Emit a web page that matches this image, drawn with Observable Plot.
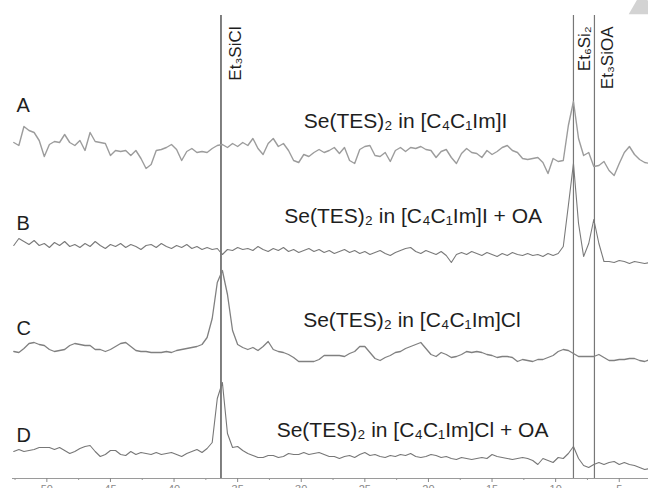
<!DOCTYPE html>
<html><head><meta charset="utf-8">
<script src="https://cdn.jsdelivr.net/npm/d3@7"></script>
<script src="https://cdn.jsdelivr.net/npm/@observablehq/plot@0.6"></script>
<style>
html,body{margin:0;padding:0;background:#fff;overflow:hidden;width:648px;height:488px;}
</style></head><body><div id="chart"></div>
<script>
// chemical shift grid (ppm), high to low
const shifts = d3.range(126).map(i => +(52.6 - 0.4 * i).toFixed(1));

const traceNames = ["A", "B", "C", "D"];
const traceOffset = [328, 230, 128, 23];
const traceColor = ["#9c9c9c", "#7a7a7a", "#808080", "#777777"];
const traceWidth = [1.4, 1.1, 1.3, 1.1];

const traceA = [8,5,24,20,18,10,-6,6,9,8, 16,8,5,10,0,18,9,8,7,-5, 0,-1,0,-5,0,-8,-18,-14,0,1,
  3,6,1,-10,-1,2,-2,-1,-2,2, 5,6,3,7,4,8,5,12,2,-4, 7,12,4,7,0,-10,-12,-4,-6,-2,
  1,-2,0,3,-3,3,-10,-13,1,4, 5,-5,-6,-2,-11,0,3,-1,3,2, 4,1,0,-7,-1,1,-7,-13,-3,2,
  -2,-3,-7,0,-4,-1,3,5,0,-2, -8,-9,-8,-7,-12,-23,-8,-11,-10,25, 49,12,-5,-2,-16,-15,-11,-20,-25,-13,
  -2,4,-4,-9,-12,-13];
const traceB = [3,10,7,4,8,3,5,1,6,3, 7,2,4,1,5,2,7,3,0,4, 2,5,1,4,2,-1,3,4,1,5,
  2,0,3,1,4,0,2,-1,1,-1, 0,-6,-1,-2,1,-1,0,-2,2,-1, -3,0,-2,1,-3,-1,-4,-2,0,-3,
  -1,-4,-2,-5,-3,-1,-4,-2,-5,-3, -6,-4,-2,-5,-7,-4,-2,0,1,-3, -5,-2,-4,-6,-3,-7,-14,-6,-4,-6,
  -3,-5,-7,-4,-6,-8,-5,-7,-4,-6, -7,-5,-7,-6,-8,-5,-7,-5,2,43, 85,25,-8,5,29,5,-13,-13,-14,-12,
  -13,-15,-13,-14,-15,-14];
const traceC = [-1,-2,2,7,8,6,5,1,-1,0, 1,5,7,6,5,5,1,1,-1,1, 4,7,8,4,0,-1,-1,-2,-2,-2,
  -1,-2,0,1,2,3,4,6,13,32, 68,80,56,20,6,3,1,3,0,4, 9,1,-1,-2,-4,-7,-11,-11,-11,-11,
  -9,-5,-5,-5,-5,-6,-3,-1,4,4, -2,-8,-10,-7,-5,-2,-1,2,4,6, 8,2,-4,-6,-2,-4,-7,-6,-4,-1,
  -2,-1,-2,-4,-5,-7,-6,-6,-7,-11, -9,-10,-11,-9,-9,-7,-5,-1,1,0, -3,-6,-6,-6,-6,-4,-7,-10,-10,-9,
  -9,-8,-8,-10,-11,-9];
const traceD = [4,6,4,5,6,8,8,8,6,8, 5,2,4,7,9,10,4,-1,1,5, 5,1,0,4,1,3,2,1,3,1,
  2,3,1,-1,2,4,6,3,7,13, 57,73,22,8,9,5,2,0,-2,-2, 0,0,-2,-1,2,1,1,3,1,2,
  3,1,-1,-1,-3,-1,0,-2,1,3, 0,1,-1,-2,0,-1,1,0,2,-1, -2,-1,1,0,-2,-1,-3,-4,-2,-3,
  -4,-3,-2,-3,1,-1,-2,-3,-4,-3, -2,-3,-5,-9,-3,-5,-7,-2,-3,2, 9,-3,-10,-12,-9,-7,-9,-7,-6,-9,
  -7,-9,-10,-12,-14,-13];
const traces = [traceA, traceB, traceC, traceD];

const sampleLabels = ["Se(TES)₂ in [C₄C₁Im]I", "Se(TES)₂ in [C₄C₁Im]I + OA", "Se(TES)₂ in [C₄C₁Im]Cl", "Se(TES)₂ in [C₄C₁Im]Cl + OA"];
const sampleLabelX = [21.8, 21.2, 21.3, 21.25];
const sampleLabelY = [351, 256, 152, 42];
const letterY = [367, 249, 144, 37];

const refShifts = [36.31, 8.6, 6.95];
const refLabels = ["Et₃SiCl", "Et₆Si₂", "Et₃SiOA"];
const refColor = ["#555555", "#777777", "#777777"];
const refTop = 463;
const refLabelTop = 452;
const refLabelDx = [15, 11, 13];

const majorTicks = [50, 45, 40, 35, 30, 25, 20, 15, 10, 5];
const minorTicks = [52.5, 47.5, 42.5, 37.5, 32.5, 27.5, 22.5, 17.5, 12.5, 7.5];

// light grey corner marker (top right of the figure)
const cornerMarker = [{shift: 3.2, level: 472}];

const font = "'Liberation Sans', Arial, Helvetica, sans-serif";

const marks = [];
marks.push(Plot.ruleY([0], {stroke: "#9a9a9a", strokeWidth: 1.2}));
marks.push(Plot.axisX(majorTicks, {anchor: "bottom", tickSize: 4, tickPadding: 3, fontSize: 11, color: "#888", tickFormat: d => String(d)}));
marks.push(Plot.ruleX(minorTicks, {y1: 0, y2: -2, stroke: "#999"}));
refShifts.forEach((s, k) => {
  marks.push(Plot.ruleX([s], {y1: 0, y2: refTop, stroke: refColor[k], strokeWidth: k === 0 ? 1.5 : 1.2}));
  marks.push(Plot.text([refLabels[k]], {x: () => s, y: () => refLabelTop, text: d => d, rotate: -90,
    textAnchor: "end", dx: refLabelDx[k], fontSize: 17, fill: "#1e1e1e", fontFamily: font}));
});
traces.forEach((vals, k) => {
  const rows = vals.map((v, i) => ({shift: shifts[i], y: traceOffset[k] + v}));
  marks.push(Plot.line(rows, {x: "shift", y: "y", stroke: traceColor[k], strokeWidth: traceWidth[k], strokeLinejoin: "round"}));
});
marks.push(Plot.text(traceNames, {frameAnchor: "left", y: (d, i) => letterY[i], text: d => d, dx: 4,
  textAnchor: "start", lineAnchor: "bottom", fontSize: 20, fill: "#1e1e1e", fontFamily: font}));
marks.push(Plot.text(sampleLabels, {x: (d, i) => sampleLabelX[i], y: (d, i) => sampleLabelY[i], text: d => d,
  textAnchor: "middle", lineAnchor: "bottom", fontSize: 21, fill: "#1e1e1e", fontFamily: font}));
marks.push(Plot.dot(cornerMarker, {x: "shift", y: "level", symbol: "triangle", r: 10, fill: "#d3d3d3", stroke: "none"}));

const chart = Plot.plot({
  width: 648, height: 500,
  marginLeft: 12, marginRight: 0, marginTop: 0, marginBottom: 22,
  x: {domain: [52.7, 2.7], axis: null},
  y: {domain: [0, 478], axis: null},
  style: {fontFamily: font, background: "white", overflow: "visible"},
  marks
});
document.getElementById("chart").appendChild(chart);
</script>
</body></html>
